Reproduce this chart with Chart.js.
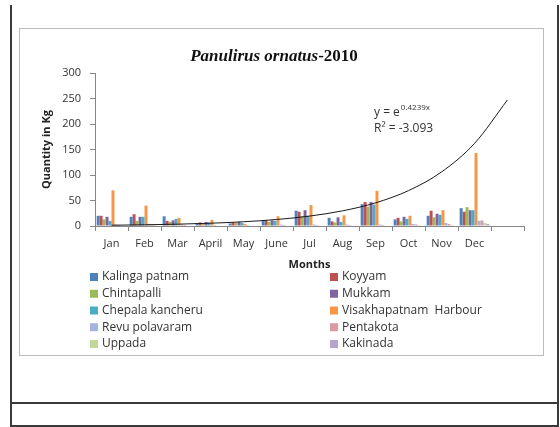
<!DOCTYPE html>
<html>
<head>
<meta charset="utf-8">
<script src="https://cdn.jsdelivr.net/npm/chart.js@4/dist/chart.umd.min.js"></script>
<style>
  html, body { margin: 0; padding: 0; background: #fff; }
  #page { position: relative; width: 560px; height: 427px; overflow: hidden; }
  .rule { position: absolute; background: #3a3a3a; }
  #frame { position: absolute; left: 19px; top: 28px; width: 523px; height: 326px; border: 1px solid #bdbdbd; }
  canvas { position: absolute; left: 0; top: 0; }
</style>
</head>
<body>
<div id="page">
  <div class="rule" style="left:10px;top:5px;width:2px;height:422px"></div>
  <div class="rule" style="left:557px;top:5px;width:2px;height:422px"></div>
  <div class="rule" style="left:10px;top:402px;width:549px;height:2px"></div>
  <div class="rule" style="left:10px;top:425px;width:549px;height:2px"></div>
  <div id="frame"></div>
  <canvas id="chart" width="560" height="427"></canvas>
</div>
<script>
// monthly landings, kg (last slot left empty for the trend forecast)
const months = ['Jan', 'Feb', 'Mar', 'April', 'May', 'June', 'Jul', 'Aug', 'Sep', 'Oct', 'Nov', 'Dec', ''];

const sites = ['Kalinga patnam', 'Koyyam', 'Chintapalli', 'Mukkam', 'Chepala kancheru',
    'Visakhapatnam  Harbour', 'Revu polavaram', 'Pentakota', 'Uppada', 'Kakinada'];
const siteColors = ['#4f81bd', '#c0504d', '#9bbb59', '#8064a2', '#4bacc6',
    '#f79646', '#a3b4e0', '#dc9aa0', '#c3d69b', '#b5a5cc'];

const kalingaPatnam = [20, 18, 19, 5, 5, 10, 30, 16, 43, 13, 20, 35];
const koyyam = [20, 23, 10, 7, 7, 11, 28, 9, 47, 16, 30, 28];
const chintapalli = [13, 10, 8, 4, 6, 8, 19, 7, 38, 9, 17, 37];
const mukkam = [18, 18, 11, 8, 8, 11, 31, 17, 47, 18, 24, 31];
const chepalaKancheru = [10, 18, 14, 7, 6, 10, 20, 8, 42, 14, 22, 31];
const visakhapatnamHarbour = [70, 40, 16, 12, 4, 19, 41, 21, 69, 20, 31, 143];
const revuPolavaram = [3, 4, 3, 2, 2, 3, 3, 3, 3, 4, 6, 10];
const pentakota = [2, 3, 2, 1, 1, 2, 2, 2, 2, 3, 4, 11];
const uppada = [1, 2, 1, 1, 1, 1, 1, 1, 1, 2, 2, 6];
const kakinada = [1, 1, 1, 1, 1, 1, 1, 1, 1, 1, 1, 4];

const siteSeries = [kalingaPatnam, koyyam, chintapalli, mukkam, chepalaKancheru,
    visakhapatnamHarbour, revuPolavaram, pentakota, uppada, kakinada];

// exponential trendline y = e^(b*x), x = 1..13
const trendCoef = 0.4239;
const trendR2 = '-3.093';
const trendValues = months.map((m, i) => Math.exp(trendCoef * (i + 1)));

const yTickMax = 300;
const yTickStep = 50;

const sans = 'Open Sans';

// title, trend equation and the two-column legend
const panelText = {
    id: 'panelText',
    afterDraw(chart) {
        const ctx = chart.ctx;
        ctx.save();
        ctx.textBaseline = 'middle';
        ctx.fillStyle = '#111';

        // title: species name in italics, year upright
        const partA = 'Panulirus ornatus';
        const partB = '-2010';
        const fontA = 'italic bold 17px "Liberation Serif"';
        const fontB = 'bold 17px "Liberation Serif"';
        ctx.font = fontA;
        const wA = ctx.measureText(partA).width;
        ctx.font = fontB;
        const wB = ctx.measureText(partB).width;
        let tx = 274 - (wA + wB) / 2;
        ctx.textAlign = 'left';
        ctx.font = fontA;
        ctx.fillText(partA, tx, 57);
        ctx.font = fontB;
        ctx.fillText(partB, tx + wA, 57);

        // trend equation
        ctx.fillStyle = '#333';
        ctx.font = '12px "' + sans + '"';
        const base = 'y = e';
        ctx.fillText(base, 374, 113);
        const wBase = ctx.measureText(base).width;
        ctx.font = '8px "' + sans + '"';
        ctx.fillText(trendCoef + 'x', 374 + wBase + 1, 108);
        ctx.font = '12px "' + sans + '"';
        ctx.fillText('R\u00b2 = ' + trendR2, 374, 129);

        // legend
        ctx.font = '12px "' + sans + '"';
        const colX = [90, 330];
        chart.data.datasets.forEach((ds, i) => {
            if (ds.type !== 'bar') return;
            const x = colX[i % 2];
            const y = 277 + Math.floor(i / 2) * 16.75;
            ctx.fillStyle = ds.backgroundColor;
            ctx.fillRect(x, y - 4, 8, 8);
            ctx.fillStyle = '#333';
            ctx.fillText(ds.label, x + 12, y);
        });
        ctx.restore();
    }
};

function buildDatasets() {
    const datasets = sites.map((name, i) => ({
        type: 'bar',
        label: name,
        data: siteSeries[i],
        backgroundColor: siteColors[i],
        categoryPercentage: 0.9,
        barPercentage: 1.0,
        order: 1
    }));
    datasets.push({
        type: 'line',
        label: 'Expon.',
        data: trendValues,
        borderColor: '#1a1a1a',
        borderWidth: 1,
        pointRadius: 0,
        cubicInterpolationMode: 'monotone',
        order: 0
    });
    return datasets;
}

const axisGray = '#868686';

new Chart(document.getElementById('chart'), {
    type: 'bar',
    data: { labels: months, datasets: buildDatasets() },
    options: {
        responsive: false,
        animation: false,
        layout: { padding: { left: 20, right: 36, top: 73, bottom: 152 } },
        plugins: {
            legend: { display: false },
            tooltip: { enabled: false },
            title: { display: false }
        },
        scales: {
            x: {
                grid: { drawOnChartArea: false, color: axisGray, tickLength: 5 },
                border: { color: axisGray },
                ticks: { color: '#333', font: { family: sans, size: 11 }, padding: 6, maxRotation: 0, autoSkip: false },
                title: {
                    display: true, text: 'Months', color: '#222',
                    font: { family: sans, size: 11, weight: 'bold' },
                    padding: { top: 0, bottom: 4 }
                },
                afterFit: (scale) => { scale.height = 49; }
            },
            y: {
                min: 0,
                max: yTickMax,
                grid: { drawOnChartArea: false, color: axisGray, tickLength: 5 },
                border: { color: axisGray },
                ticks: { stepSize: yTickStep, color: '#333', font: { family: sans, size: 11 }, padding: 9 },
                title: {
                    display: true, text: 'Quantity in Kg', color: '#222',
                    font: { family: sans, size: 11, weight: 'bold' },
                    padding: { top: 20, bottom: 0 }
                },
                afterFit: (scale) => { scale.width = 75; }
            }
        }
    },
    plugins: [panelText]
});
</script>
</body>
</html>
